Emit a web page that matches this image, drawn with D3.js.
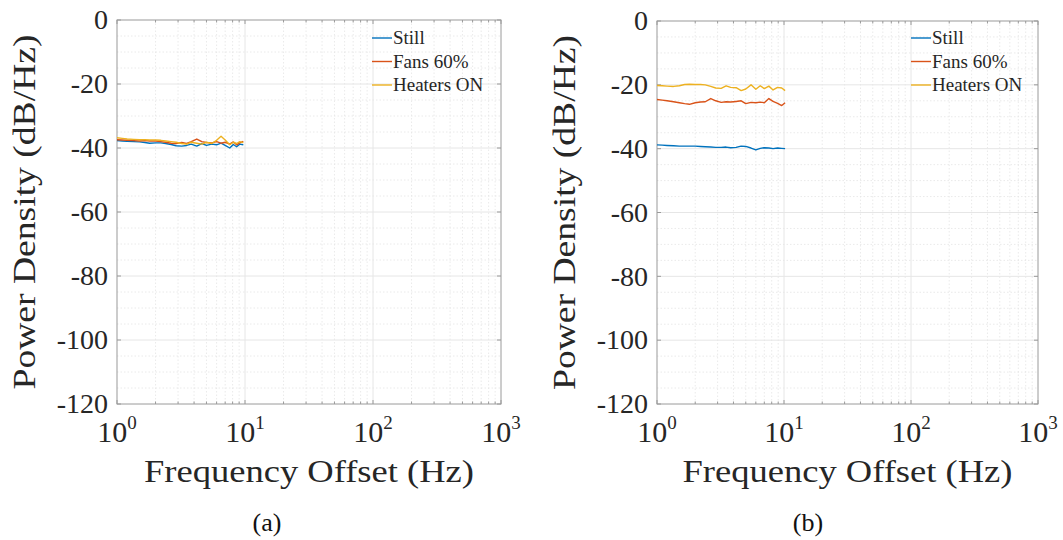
<!DOCTYPE html>
<html>
<head>
<meta charset="utf-8">
<script src="https://cdn.jsdelivr.net/npm/d3@7/dist/d3.min.js"></script>
<style>
  html, body { margin: 0; padding: 0; background: #fff; }
  svg { display: block; }
</style>
</head>
<body>
<svg id="fig" width="1063" height="540"></svg>
<script>
// Frequency offsets (Hz) for each measurement panel
const freqA = [1.0, 1.1, 1.2, 1.35, 1.5, 1.65, 1.8, 2.0, 2.2, 2.4, 2.65, 2.9, 3.2, 3.5, 3.8, 4.2, 4.6, 5.0, 5.5, 6.0, 6.5, 7.0, 7.6, 8.1, 8.6, 9.1, 9.7];
const freqB = [1.0, 1.1, 1.2, 1.35, 1.5, 1.65, 1.8, 2.0, 2.2, 2.4, 2.65, 2.9, 3.2, 3.5, 3.8, 4.2, 4.6, 5.0, 5.5, 6.0, 6.5, 7.0, 7.6, 8.2, 8.9, 9.6, 10.2];

// Panel (a) power spectral density (dB/Hz)
const stillA   = [-37.7,-37.8,-37.9,-38.0,-38.1,-38.3,-38.5,-38.4,-38.4,-38.6,-38.9,-39.3,-39.4,-39.2,-38.8,-39.4,-38.6,-39.2,-38.8,-39.0,-38.5,-39.2,-40.0,-38.9,-39.6,-38.8,-39.0];
const fansA    = [-37.4,-37.5,-37.6,-37.7,-37.8,-37.7,-37.8,-37.8,-38.0,-38.2,-38.5,-38.6,-38.3,-38.6,-38.0,-37.2,-38.0,-38.3,-38.4,-38.0,-38.5,-38.2,-38.8,-38.1,-39.0,-38.4,-37.9];
const heatersA = [-36.8,-37.0,-37.2,-37.3,-37.4,-37.4,-37.5,-37.5,-37.6,-37.8,-38.0,-38.2,-38.6,-38.8,-38.2,-38.5,-38.8,-38.2,-38.6,-37.6,-36.3,-37.5,-39.0,-38.2,-38.6,-38.0,-38.3];

// Panel (b) power spectral density (dB/Hz)
const stillB   = [-38.8,-38.9,-39.0,-39.1,-39.2,-39.2,-39.2,-39.2,-39.3,-39.4,-39.5,-39.6,-39.6,-39.5,-39.7,-39.6,-39.2,-39.3,-39.8,-40.4,-39.9,-39.7,-39.8,-40.0,-39.8,-39.9,-40.0];
const fansB    = [-24.6,-24.8,-25.0,-25.3,-25.6,-25.9,-26.1,-25.6,-25.4,-25.3,-24.3,-25.0,-25.5,-25.3,-25.4,-25.2,-25.0,-25.9,-25.5,-25.6,-25.4,-25.6,-24.3,-25.2,-25.8,-26.5,-25.6];
const heatersB = [-20.2,-20.3,-20.4,-20.5,-20.3,-19.9,-19.8,-19.9,-19.9,-20.0,-20.5,-21.0,-21.1,-20.3,-20.8,-20.9,-21.8,-21.3,-20.0,-21.4,-20.3,-21.2,-20.4,-21.6,-20.8,-21.0,-21.8];

const seriesNames = ["Still", "Fans 60%", "Heaters ON"];
const seriesColors = ["#0072BD", "#D95319", "#EDB120"];
const yTicks = [0, -20, -40, -60, -80, -100, -120];
const xTickExps = [0, 1, 2, 3];
const captions = ["(a)", "(b)"];

const panels = [
  { box: { x0: 117, x1: 501, y0: 20, y1: 404 }, freq: freqA, ys: [stillA, fansA, heatersA], legendX: 372, caption: captions[0], capX: 267 },
  { box: { x0: 657, x1: 1038, y0: 21, y1: 404 }, freq: freqB, ys: [stillB, fansB, heatersB], legendX: 911, caption: captions[1], capX: 808 }
];

const svg = d3.select("#fig");
const serif = "'Liberation Serif', 'Times New Roman', serif";
const textCol = "#262626";
const axisCol = "#9a9a9a";

panels.forEach(p => {
  const b = p.box;
  const x = d3.scaleLog().domain([1, 1000]).range([b.x0, b.x1]);
  const y = d3.scaleLinear().domain([-120, 0]).range([b.y1, b.y0]);
  const g = svg.append("g");

  // minor grid
  const minorX = [];
  for (let e = 0; e < 3; e++) for (let m = 2; m <= 9; m++) minorX.push(m * Math.pow(10, e));
  const minorY = d3.range(-115, 0, 5).filter(v => v % 20 !== 0);
  g.selectAll(".mgx").data(minorX).join("line")
    .attr("x1", d => x(d)).attr("x2", d => x(d)).attr("y1", b.y0).attr("y2", b.y1)
    .attr("stroke", "#e4e4e4").attr("stroke-width", 0.8).attr("stroke-dasharray", "1.5,2");
  g.selectAll(".mgy").data(minorY).join("line")
    .attr("x1", b.x0).attr("x2", b.x1).attr("y1", d => y(d)).attr("y2", d => y(d))
    .attr("stroke", "#e4e4e4").attr("stroke-width", 0.8).attr("stroke-dasharray", "1.5,2");
  // major grid
  g.selectAll(".gx").data([10, 100]).join("line")
    .attr("x1", d => x(d)).attr("x2", d => x(d)).attr("y1", b.y0).attr("y2", b.y1)
    .attr("stroke", "#e6e6e6").attr("stroke-width", 1);
  g.selectAll(".gy").data(yTicks.filter(v => v !== 0 && v !== -120)).join("line")
    .attr("x1", b.x0).attr("x2", b.x1).attr("y1", d => y(d)).attr("y2", d => y(d))
    .attr("stroke", "#e6e6e6").attr("stroke-width", 1);

  // inward ticks on all sides
  const tk = g.append("g").attr("stroke", axisCol).attr("stroke-width", 1);
  yTicks.forEach(v => {
    tk.append("line").attr("x1", b.x0).attr("x2", b.x0 + 4).attr("y1", y(v)).attr("y2", y(v));
    tk.append("line").attr("x1", b.x1).attr("x2", b.x1 - 4).attr("y1", y(v)).attr("y2", y(v));
  });
  xTickExps.forEach(e => {
    const v = Math.pow(10, e);
    tk.append("line").attr("x1", x(v)).attr("x2", x(v)).attr("y1", b.y1).attr("y2", b.y1 - 4);
    tk.append("line").attr("x1", x(v)).attr("x2", x(v)).attr("y1", b.y0).attr("y2", b.y0 + 4);
  });
  minorX.forEach(v => {
    tk.append("line").attr("x1", x(v)).attr("x2", x(v)).attr("y1", b.y1).attr("y2", b.y1 - 2.5);
    tk.append("line").attr("x1", x(v)).attr("x2", x(v)).attr("y1", b.y0).attr("y2", b.y0 + 2.5);
  });

  // box
  g.append("rect").attr("x", b.x0).attr("y", b.y0).attr("width", b.x1 - b.x0).attr("height", b.y1 - b.y0)
    .attr("fill", "none").attr("stroke", axisCol).attr("stroke-width", 1);

  // data lines
  const line = d3.line().x(d => x(d[0])).y(d => y(d[1]));
  p.ys.forEach((vals, i) => {
    g.append("path").datum(p.freq.map((f, j) => [f, vals[j]]))
      .attr("d", line).attr("fill", "none")
      .attr("stroke", seriesColors[i]).attr("stroke-width", 1.4).attr("stroke-linejoin", "round");
  });

  // y tick labels
  g.selectAll(".yl").data(yTicks).join("text")
    .attr("x", b.x0 - 9).attr("y", d => y(d)).attr("dy", "0.33em")
    .attr("text-anchor", "end").attr("font-family", serif).attr("font-size", 28).attr("fill", textCol)
    .text(d => d);

  // x tick labels with exponent
  xTickExps.forEach(e => {
    const t = g.append("text").attr("x", x(Math.pow(10, e))).attr("y", b.y1 + 38)
      .attr("text-anchor", "middle").attr("font-family", serif).attr("fill", textCol);
    t.append("tspan").attr("font-size", 30).text("10");
    t.append("tspan").attr("font-size", 19).attr("dy", -13).text(e);
  });

  // axis titles
  g.append("text").attr("x", (b.x0 + b.x1) / 2).attr("y", b.y1 + 78)
    .attr("text-anchor", "middle").attr("font-family", serif).attr("font-size", 32).attr("fill", textCol)
    .attr("textLength", 330).attr("lengthAdjust", "spacingAndGlyphs")
    .text("Frequency Offset (Hz)");
  g.append("text").attr("transform", `translate(${b.x0 - 82},${(b.y0 + b.y1) / 2}) rotate(-90)`)
    .attr("text-anchor", "middle").attr("font-family", serif).attr("font-size", 32).attr("fill", textCol)
    .attr("textLength", 355).attr("lengthAdjust", "spacingAndGlyphs")
    .text("Power Density (dB/Hz)");

  // legend
  seriesNames.forEach((name, i) => {
    const ly = 38 + i * 23.5;
    g.append("line").attr("x1", p.legendX).attr("x2", p.legendX + 20).attr("y1", ly).attr("y2", ly)
      .attr("stroke", seriesColors[i]).attr("stroke-width", 1.4);
    g.append("text").attr("x", p.legendX + 21).attr("y", ly).attr("dy", "0.33em")
      .attr("font-family", serif).attr("font-size", 19).attr("fill", textCol).text(name);
  });

  // caption
  svg.append("text").attr("x", p.capX).attr("y", 531).attr("text-anchor", "middle")
    .attr("font-family", serif).attr("font-size", 26).attr("fill", "#111").text(p.caption);
});
</script>
</body>
</html>
